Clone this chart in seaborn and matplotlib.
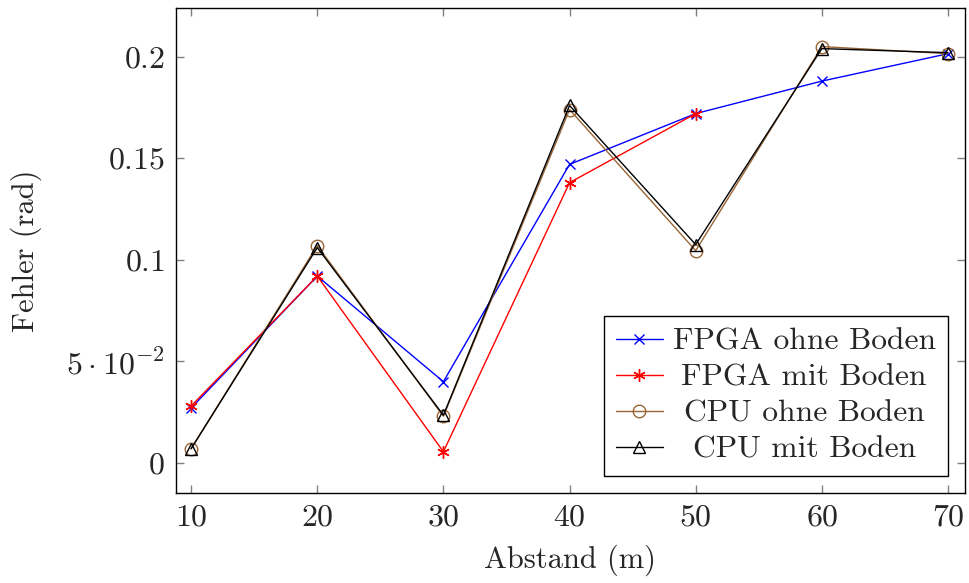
import matplotlib
matplotlib.use("Agg")
import matplotlib.pyplot as plt
import seaborn as sns
import pandas as pd

# Measured orientation error per distance
abstand = [10, 20, 30, 40, 50, 60, 70]
fpga_ohne = [0.027, 0.092, 0.040, 0.147, 0.172, 0.188, 0.2015]
abstand_fpga_mit = [10, 20, 30, 40, 50]
fpga_mit = [0.028, 0.092, 0.0055, 0.138, 0.172]
cpu_ohne = [0.007, 0.107, 0.023, 0.174, 0.1045, 0.205, 0.2015]
cpu_mit = [0.007, 0.106, 0.0235, 0.176, 0.1075, 0.204, 0.202]

series_names = ["FPGA ohne Boden", "FPGA mit Boden", "CPU ohne Boden", "CPU mit Boden"]
x_ticks = [10, 20, 30, 40, 50, 60, 70]
y_ticks = [0, 0.05, 0.1, 0.15, 0.2]
y_tick_labels = ["$0$", r"$5\cdot10^{-2}$", "$0.1$", "$0.15$", "$0.2$"]

sns.set_theme(style="white")
plt.rcParams["font.family"] = ["cmr10", "DejaVu Serif"]
plt.rcParams["mathtext.fontset"] = "cm"
plt.rcParams["axes.formatter.use_mathtext"] = True

fig = plt.figure(figsize=(9.69, 5.83), dpi=100)
ax = fig.add_axes([0.1816, 0.1544, 0.8143, 0.8319])

brown = "#9a6535"
styles = [
    dict(color="blue", marker="x", markersize=7, mew=1.0, mfc="blue", mec="blue"),
    dict(color="red", marker=(6, 2, 0), markersize=9, mew=1.0, mfc="red", mec="red"),
    dict(color=brown, marker="o", markersize=9, mew=1.0, mfc="none", mec=brown),
    dict(color="black", marker="^", markersize=8, mew=1.0, mfc="none", mec="black"),
]
data = [
    (abstand, fpga_ohne),
    (abstand_fpga_mit, fpga_mit),
    (abstand, cpu_ohne),
    (abstand, cpu_mit),
]
for (xs, ys), name, st in zip(data, series_names, styles):
    df = pd.DataFrame({"Abstand": xs, "Fehler": ys})
    sns.lineplot(data=df, x="Abstand", y="Fehler", ax=ax, label=name,
                 linewidth=1.0, **st)

ax.set_xlim(8.8, 71.35)
ax.set_ylim(-0.0148, 0.224)
ax.set_xticks(x_ticks)
ax.set_xticklabels([f"${v}$" for v in x_ticks])
ax.set_yticks(y_ticks)
ax.set_yticklabels(y_tick_labels)
ax.tick_params(axis="both", direction="in", length=6, width=1.0, color="#808080",
               labelsize=23, top=True, right=True, bottom=True, left=True, pad=8)
ax.set_xlabel("Abstand (m)", fontsize=22, labelpad=9)
ax.set_ylabel("Fehler (rad)", fontsize=22, labelpad=17)
for sp in ax.spines.values():
    sp.set_color("black")
    sp.set_linewidth(1.0)

leg = ax.legend(loc="lower right", fontsize=22.7, frameon=True, fancybox=False,
                edgecolor="black", framealpha=1, borderpad=0.38, labelspacing=0.25,
                handlelength=1.5, handletextpad=0.3, borderaxespad=0.55)
leg.get_frame().set_linewidth(1.0)

# Center the legend entries' text within the text column
fig.canvas.draw()
renderer = fig.canvas.get_renderer()
widths = [t.get_window_extent(renderer).width for t in leg.get_texts()]
wmax = max(widths)
for t, w in zip(leg.get_texts(), widths):
    t.set_position(((wmax - w) / 2, 0))

fig.savefig("out.png", dpi=100)
